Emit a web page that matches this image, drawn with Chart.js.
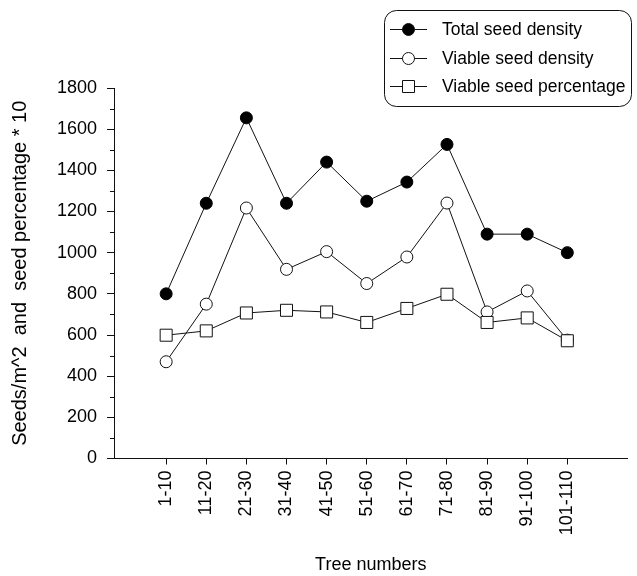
<!DOCTYPE html>
<html>
<head>
<meta charset="utf-8">
<script src="https://cdn.jsdelivr.net/npm/chart.js@4/dist/chart.umd.min.js"></script>
<style>
  html, body { margin: 0; padding: 0; background: #fff; }
  #wrap { width: 637px; height: 576px; }
</style>
</head>
<body>
<div id="wrap"><canvas id="chart" width="637" height="576"></canvas></div>
<script>
// tree number groups (x axis) and the three series
const groups = ['1-10','11-20','21-30','31-40','41-50','51-60','61-70','71-80','81-90','91-100','101-110'];
const totalDensity  = [800, 1240, 1655, 1240, 1440, 1250, 1343, 1526, 1090, 1090, 1000];
const viableDensity = [470, 750, 1217, 919, 1005, 850, 979, 1241, 712, 814, 575];
const viablePercent = [599, 620, 707, 720, 712, 661, 729, 798, 661, 683, 572];
const yTicks = [0, 200, 400, 600, 800, 1000, 1200, 1400, 1600, 1800];

const FONT = "'Liberation Sans', Arial, Helvetica, sans-serif";
const INK = '#111';

const pts = arr => arr.map((v, i) => ({ x: i + 1, y: v }));

// minor ticks on y + the rounded legend box
const extras = {
  id: 'extras',
  afterDraw(chart) {
    const ctx = chart.ctx;
    const y = chart.scales.y;
    ctx.save();
    ctx.strokeStyle = INK;
    ctx.lineWidth = 1;
    for (let v = 100; v < 1800; v += 200) {
      const py = Math.round(y.getPixelForValue(v)) + 0.5;
      ctx.beginPath();
      ctx.moveTo(y.right - 4, py);
      ctx.lineTo(y.right, py);
      ctx.stroke();
    }

    // legend
    ctx.beginPath();
    ctx.roundRect(384.5, 10.5, 247, 96, 12);
    ctx.stroke();
    const rows = [29, 58, 86];
    ctx.font = '17.5px ' + FONT;
    ctx.fillStyle = '#000';
    ctx.textBaseline = 'middle';
    chart.data.datasets.forEach((ds, i) => {
      const ry = rows[i] + 0.5;
      ctx.beginPath();
      ctx.moveTo(390, ry);
      ctx.lineTo(427, ry);
      ctx.strokeStyle = INK;
      ctx.stroke();
      ctx.beginPath();
      if (ds.pointStyle === 'rect') {
        ctx.rect(402.5, ry - 6, 12, 12);
      } else {
        ctx.arc(408.5, ry, 6, 0, Math.PI * 2);
      }
      ctx.fillStyle = ds.pointBackgroundColor;
      ctx.fill();
      ctx.stroke();
      ctx.fillStyle = '#000';
      ctx.fillText(ds.label, 442, rows[i] + 1);
    });
    ctx.restore();
  }
};

new Chart(document.getElementById('chart'), {
  type: 'line',
  data: {
    datasets: [
      { label: 'Total seed density', data: pts(totalDensity), borderColor: INK, borderWidth: 1,
        pointStyle: 'circle', pointRadius: 6, pointBackgroundColor: '#000', pointBorderColor: '#000', pointBorderWidth: 1, order: 2 },
      { label: 'Viable seed density', data: pts(viableDensity), borderColor: INK, borderWidth: 1,
        pointStyle: 'circle', pointRadius: 6, pointBackgroundColor: '#fff', pointBorderColor: INK, pointBorderWidth: 1, order: 1 },
      { label: 'Viable seed percentage', data: pts(viablePercent), borderColor: INK, borderWidth: 1,
        pointStyle: 'rect', pointRadius: 8.5, pointBackgroundColor: '#fff', pointBorderColor: INK, pointBorderWidth: 1, order: 0 },
    ]
  },
  options: {
    responsive: false,
    animation: false,
    layout: { padding: { left: 4, top: 88, right: 0, bottom: 0 } },
    plugins: { legend: { display: false }, tooltip: { enabled: false } },
    elements: { line: { tension: 0 } },
    scales: {
      x: {
        type: 'linear',
        min: -0.3,
        max: 12.5,
        afterBuildTicks: s => { s.ticks = groups.map((g, i) => ({ value: i + 1 })); },
        afterFit: s => { s.height = 117.5; },
        grid: { display: true, drawOnChartArea: false, tickLength: 6, color: INK },
        border: { display: true, color: INK, width: 1 },
        ticks: {
          color: '#000', font: { family: FONT, size: 18 }, padding: 6,
          minRotation: 90, maxRotation: 90, autoSkip: false,
          callback: v => groups[v - 1]
        },
        title: { display: true, text: 'Tree numbers', color: '#000', font: { family: FONT, size: 18 },
                 padding: { top: 0, bottom: 0 } }
      },
      y: {
        min: 0,
        max: 1800,
        afterBuildTicks: s => { s.ticks = yTicks.map(v => ({ value: v })); },
        afterFit: s => { s.width = 110; },
        grid: { display: true, drawOnChartArea: false, tickLength: 7, color: INK },
        border: { display: true, color: INK, width: 1 },
        ticks: { color: '#000', font: { family: FONT, size: 18 }, padding: 10, callback: v => String(v) },
        title: { display: true, text: 'Seeds/m^2  and  seed percentage * 10', color: '#000', font: { family: FONT, size: 20 },
                 padding: { top: 4, bottom: 4 } }
      }
    }
  },
  plugins: [extras]
});
</script>
</body>
</html>
